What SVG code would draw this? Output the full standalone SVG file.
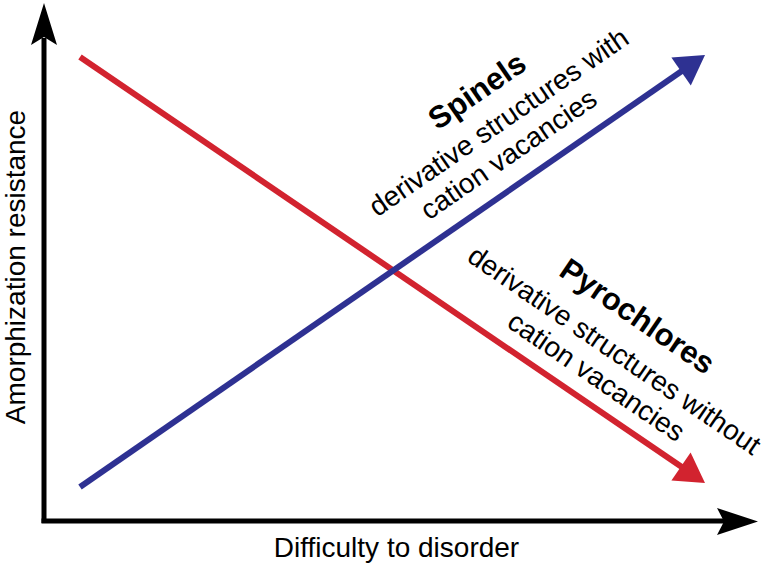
<svg xmlns="http://www.w3.org/2000/svg" width="766" height="565" viewBox="0 0 766 565">
<style>
text{font-family:"Liberation Sans",Arial,Helvetica,sans-serif;fill:#000}
.body{font-size:28px}
.title{font-size:31px;font-weight:bold}
.axis{stroke:#000;stroke-width:5;fill:none}
.red{stroke:#d2232f;stroke-width:6;fill:none}
.blue{stroke:#2e3192;stroke-width:6;fill:none}
</style>
<rect width="766" height="565" fill="#fff"/>
<g id="axes">
  <line class="axis" x1="44" y1="523" x2="44" y2="38"/>
  <polygon points="44,3 57,45 44,37 31,45" fill="#000"/>
  <line class="axis" x1="41.5" y1="521" x2="726" y2="521"/>
  <polygon points="758,521.5 717,508 724,521.5 717,535" fill="#000"/>
</g>
<g id="connectors">
  <line class="red" x1="80" y1="57" x2="684" y2="468.6"/>
  <polygon points="705,483 671.4,480.6 690.6,452.6" fill="#d2232f"/>
  <line class="blue" x1="80" y1="487" x2="684" y2="69.5"/>
  <polygon points="705,55 690.8,85.5 671.4,57.5" fill="#2e3192"/>
</g>
<g id="ylabel">
  <text class="body" transform="translate(25,267) rotate(-90)" text-anchor="middle">Amorphization resistance</text>
</g>
<g id="xlabel">
  <text class="body" x="396.5" y="557" text-anchor="middle">Difficulty to disorder</text>
</g>
<g id="spinels" transform="translate(504,130) rotate(-34.6)">
  <text class="title" x="0" y="-37" text-anchor="middle">Spinels</text>
  <text class="body" x="0" y="0" text-anchor="middle">derivative structures with</text>
  <text class="body" x="-10" y="32" text-anchor="middle">cation vacancies</text>
</g>
<g id="pyrochlores" transform="translate(609,358) rotate(34.3)">
  <text class="title" x="0" y="-40" text-anchor="middle">Pyrochlores</text>
  <text class="body" x="0" y="0" text-anchor="middle">derivative structures without</text>
  <text class="body" x="0" y="32" text-anchor="middle">cation vacancies</text>
</g>
</svg>
